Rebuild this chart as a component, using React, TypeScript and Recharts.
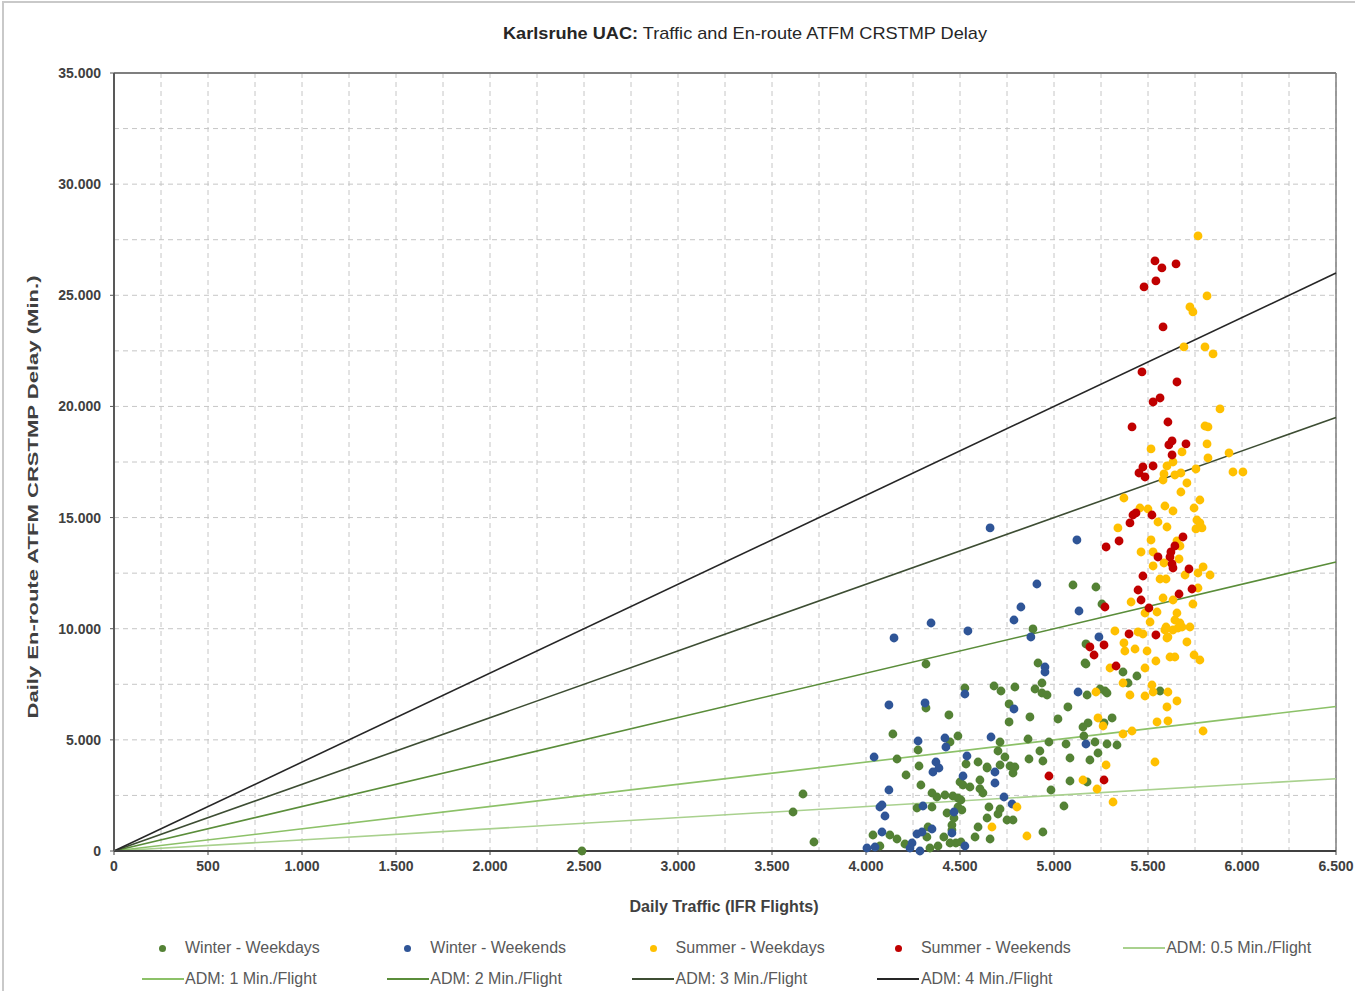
import {
  CartesianGrid,
  ReferenceLine,
  Scatter,
  ScatterChart,
  XAxis,
  YAxis,
} from "recharts";

// [daily traffic, daily delay minutes]
const winterWeekdays: [number, number][] = [
  [4319, 6434], [4441, 6119], [4143, 5264], [4489, 5174], [4447, 4904], [4277, 4544],
  [4165, 4139], [4282, 3824], [4532, 3914], [4596, 4004], [4644, 3734], [4213, 3419],
  [4500, 3104], [4516, 2969], [4606, 3194], [4292, 2969], [4553, 2879], [4606, 2800],
  [4622, 2609], [4351, 2609], [4377, 2429], [4420, 2519], [4462, 2474], [4489, 2384],
  [4505, 2294], [4489, 1980], [4510, 1845], [4271, 1935], [4351, 1980], [4431, 1710],
  [4468, 1485], [4457, 1170], [4596, 1080], [4330, 1080], [4457, 945], [4037, 720],
  [4127, 720], [4165, 540], [4207, 315], [4324, 630], [4414, 630], [4478, 360],
  [4505, 405], [4580, 630], [4074, 225], [4340, 135], [4383, 225], [4447, 360],
  [4644, 1485], [4681, 7423], [4718, 7198], [4792, 7378], [4899, 7288], [4936, 7558],
  [4936, 7108], [4963, 7018], [5176, 7018], [4761, 6614], [5074, 6479], [4872, 6029],
  [5021, 5939], [4761, 5804], [5266, 5759], [4713, 4904], [4862, 5039], [4973, 4904],
  [5064, 4814], [5159, 5174], [4702, 4499], [4925, 4499], [4739, 4229], [4867, 4139],
  [4941, 4049], [5085, 4184], [5191, 4094], [4644, 3779], [4713, 3869], [4766, 3824],
  [4792, 3779], [4782, 3509], [5085, 3149], [4984, 2744], [5053, 2024], [4654, 1980],
  [4713, 1890], [4702, 1665], [4750, 1395], [4782, 1395], [4660, 540], [4941, 855],
  [5170, 9313], [5165, 8458], [5367, 8053], [5441, 7873], [5394, 7558], [5245, 7288],
  [5271, 7198], [5282, 7108], [5564, 7198], [5309, 5984], [5181, 5759], [5154, 5579],
  [5218, 4904], [5282, 4814], [5335, 4769], [5234, 4409], [5176, 3104], [5101, 11967],
  [5223, 11877], [5255, 11112], [4888, 9988], [4319, 8413], [4915, 8458], [5170, 8413],
  [4526, 7333], [3665, 2564], [3612, 1755], [3723, 405], [2489, 0],
];

const winterWeekends: [number, number][] = [
  [4660, 14532], [5122, 13992], [4909, 12012], [4824, 10977], [4346, 10257], [4149, 9583],
  [4542, 9898], [4787, 10392], [4877, 9628], [5133, 10797], [5239, 9628], [4952, 8278],
  [4952, 8053], [5128, 7153], [4526, 7063], [4122, 6569], [4314, 6659], [4787, 6389],
  [4277, 4949], [4420, 5084], [4425, 4679], [4043, 4229], [4372, 4004], [4388, 3734],
  [4356, 3554], [4516, 3374], [4537, 4274], [4122, 2744], [4074, 1980], [4085, 2069],
  [4303, 2024], [4101, 1575], [4468, 1755], [4085, 855], [4351, 990], [4271, 765],
  [4298, 855], [4457, 810], [4245, 360], [4234, 135], [4287, 0], [4005, 135],
  [4048, 180], [4526, 225], [4665, 5129], [5170, 4814], [4686, 3554], [4686, 3059],
  [4734, 2429], [4777, 2114],
];

const summerWeekdays: [number, number][] = [
  [5766, 27669], [5814, 24970], [5723, 24475], [5739, 24250], [5691, 22675], [5803, 22675],
  [5846, 22360], [5883, 19886], [5803, 19120], [5819, 19076], [5516, 18086], [5814, 18311],
  [5681, 17951], [5819, 17681], [5931, 17906], [5952, 17051], [6005, 17051], [5601, 17321],
  [5755, 17186], [5633, 17501], [5585, 16961], [5580, 16691], [5643, 16916], [5675, 17006],
  [5707, 16556], [5675, 16151], [5372, 15881], [5776, 15791], [5457, 15431], [5500, 15386],
  [5590, 15521], [5633, 15296], [5745, 15431], [5553, 14801], [5601, 14576], [5760, 14891],
  [5776, 14757], [5755, 14487], [5787, 14532], [5340, 14532], [5516, 13992], [5463, 13452],
  [5527, 13452], [5654, 13947], [5670, 13722], [5527, 12822], [5585, 12957], [5665, 13137],
  [5793, 12777], [5830, 12417], [5766, 12507], [5697, 12417], [5564, 12237], [5596, 12237],
  [5766, 11832], [5410, 11202], [5580, 11382], [5633, 11292], [5739, 11112], [5484, 10707],
  [5548, 10752], [5654, 10707], [5511, 10302], [5643, 10392], [5670, 10257], [5596, 10077],
  [5324, 9898], [5447, 9853], [5473, 9763], [5590, 9943], [5606, 9628], [5601, 9583],
  [5633, 9943], [5660, 10033], [5681, 10077], [5723, 10077], [5707, 9403], [5372, 9358],
  [5377, 8998], [5431, 9088], [5495, 8998], [5542, 8548], [5617, 8728], [5643, 8728],
  [5745, 8818], [5776, 8593], [5298, 8233], [5484, 8233], [5367, 7558], [5223, 7153],
  [5404, 7018], [5484, 6973], [5521, 7468], [5527, 7153], [5606, 7153], [5654, 6749],
  [5601, 6479], [5234, 5984], [5261, 5624], [5548, 5804], [5606, 5849], [5415, 5399],
  [5367, 5264], [5793, 5399], [5277, 3869], [5537, 4004], [5154, 3194], [5229, 2789],
  [5314, 2204], [4803, 1980], [4670, 1080], [4856, 675],
];

const summerWeekends: [number, number][] = [
  [5537, 26544], [5574, 26229], [5649, 26409], [5542, 25644], [5479, 25374], [5580, 23575],
  [5468, 21550], [5654, 21100], [5564, 20380], [5527, 20200], [5606, 19300], [5415, 19076],
  [5611, 18266], [5628, 18446], [5702, 18311], [5628, 17816], [5473, 17276], [5527, 17321],
  [5452, 17006], [5484, 16826], [5436, 15207], [5420, 15116], [5521, 15116], [5404, 14757],
  [5346, 13947], [5277, 13677], [5686, 14127], [5643, 13722], [5622, 13452], [5553, 13227],
  [5617, 13227], [5628, 12912], [5633, 12732], [5718, 12687], [5473, 12372], [5665, 11562],
  [5734, 11787], [5447, 11742], [5463, 11292], [5505, 10932], [5271, 10977], [5399, 9763],
  [5542, 9718], [5191, 9178], [5266, 9268], [5213, 8818], [5330, 8323], [5266, 3194],
  [4973, 3374],
];

// ADM reference lines: delay at the right edge of the chart (6.500 flights)
const admLabels = ["ADM: 0.5 Min./Flight", "ADM: 1 Min./Flight", "ADM: 2 Min./Flight", "ADM: 3 Min./Flight", "ADM: 4 Min./Flight"];
const admEndX = 6500;
const admEndY = [3250, 6500, 13000, 19500, 26000];
const admColors = ["#a9d18e", "#8cc168", "#5a8d3a", "#3d4d33", "#262626"];

const xTicks = [0, 500, 1000, 1500, 2000, 2500, 3000, 3500, 4000, 4500, 5000, 5500, 6000, 6500];
const yTicks = [0, 5000, 10000, 15000, 20000, 25000, 30000, 35000];
const xGrid = [
  0, 250, 500, 750, 1000, 1250, 1500, 1750, 2000, 2250, 2500, 2750, 3000, 3250,
  3500, 3750, 4000, 4250, 4500, 4750, 5000, 5250, 5500, 5750, 6000, 6250, 6500,
];
const yGrid = [
  0, 2500, 5000, 7500, 10000, 12500, 15000, 17500, 20000, 22500, 25000, 27500,
  30000, 32500, 35000,
];

const seriesDefs = [
  { name: "Winter - Weekdays", color: "#548235", data: winterWeekdays },
  { name: "Winter - Weekends", color: "#2f5597", data: winterWeekends },
  { name: "Summer - Weekdays", color: "#ffc000", data: summerWeekdays },
  { name: "Summer - Weekends", color: "#c00000", data: summerWeekends },
];

const FONT = '"Liberation Sans", Arial, sans-serif';
const fmt = (v: number) => v.toLocaleString("de-DE");

const toPoints = (rows: [number, number][]) => rows.map(([x, y]) => ({ x, y }));

function Dot(props: any) {
  const { cx, cy, fill } = props;
  if (cx == null || cy == null) return <g />;
  return <circle cx={cx} cy={cy} r={4.4} fill={fill} />;
}

function LegendBlock() {
  const items = [
    ...seriesDefs.map((s) => ({ label: s.name, color: s.color, dot: true })),
    ...admLabels.map((label, i) => ({ label, color: admColors[i], dot: false })),
  ];
  return (
    <>
      {items.map((item, i) => {
        const row = i < 5 ? 0 : 1;
        const col = i < 5 ? i : i - 5;
        const textX = 185 + col * 245.3;
        const y = row === 0 ? 948 : 979;
        return (
          <div
            key={item.label}
            style={{
              position: "absolute",
              left: textX - 44,
              top: y - 10,
              height: 20,
              display: "flex",
              alignItems: "center",
              fontFamily: FONT,
              fontSize: 16,
              color: "#595959",
              whiteSpace: "nowrap",
            }}
          >
            <span style={{ width: 43, display: "inline-flex", justifyContent: "center", marginRight: 1 }}>
              {item.dot ? (
                <span style={{ width: 7, height: 7, borderRadius: "50%", background: item.color }} />
              ) : (
                <span style={{ width: 42, height: 2, background: item.color }} />
              )}
            </span>
            {item.label}
          </div>
        );
      })}
    </>
  );
}

function Titles() {
  return (
    <svg
      width={1355}
      height={991}
      style={{ position: "absolute", left: 0, top: 0, pointerEvents: "none" }}
    >
      <text
        x={745}
        y={39}
        textAnchor="middle"
        fontFamily={FONT}
        fontSize={17}
        fill="#262626"
        textLength={484}
        lengthAdjust="spacingAndGlyphs"
      >
        <tspan fontWeight={700}>Karlsruhe UAC:</tspan> Traffic and En-route ATFM CRSTMP Delay
      </text>
      <text
        x={724}
        y={912}
        textAnchor="middle"
        fontFamily={FONT}
        fontSize={16}
        fontWeight={700}
        fill="#404040"
        textLength={189}
        lengthAdjust="spacingAndGlyphs"
      >
        Daily Traffic (IFR Flights)
      </text>
      <text
        x={0}
        y={0}
        transform="translate(38 497) rotate(-90)"
        textAnchor="middle"
        fontFamily={FONT}
        fontSize={15}
        fontWeight={700}
        fill="#404040"
        textLength={443}
        lengthAdjust="spacingAndGlyphs"
      >
        Daily En-route ATFM CRSTMP Delay (Min.)
      </text>
    </svg>
  );
}

export default function App() {
  return (
    <div
      style={{
        position: "absolute",
        left: 0,
        top: 0,
        width: 1355,
        height: 991,
        background: "#fff",
        overflow: "hidden",
      }}
    >
      <div
        style={{
          position: "absolute",
          left: 2,
          top: 1,
          width: 1360,
          height: 1000,
          borderLeft: "2px solid #c9c9c9",
          borderTop: "2px solid #c9c9c9",
        }}
      />
      <ScatterChart
        width={1355}
        height={991}
        margin={{ top: 73, right: 19, bottom: 110, left: 54 }}
        style={{ position: "absolute", left: 0, top: 0 }}
      >
        <CartesianGrid
          stroke="#c6c6c6"
          strokeDasharray="5 4"
          verticalValues={xGrid}
          horizontalValues={yGrid}
        />
        <XAxis
          type="number"
          dataKey="x"
          domain={[0, 6500]}
          ticks={xTicks}
          interval={0}
          tickFormatter={fmt}
          height={30}
          axisLine={{ stroke: "#404040", strokeWidth: 2 }}
          tickLine={{ stroke: "#404040" }}
          tickSize={4}
          tickMargin={6}
          tick={{ fontSize: 14, fontWeight: 700, fill: "#404040", fontFamily: FONT }}
        />
        <YAxis
          type="number"
          dataKey="y"
          domain={[0, 35000]}
          ticks={yTicks}
          interval={0}
          tickFormatter={fmt}
          width={60}
          axisLine={{ stroke: "#595959", strokeWidth: 2 }}
          tickLine={{ stroke: "#595959" }}
          tickSize={4}
          tickMargin={9}
          tick={{ fontSize: 14, fontWeight: 700, fill: "#404040", fontFamily: FONT }}
        />
        <ReferenceLine y={35000} stroke="#7f7f7f" strokeWidth={2} />
        <ReferenceLine x={6500} stroke="#7f7f7f" strokeWidth={1.5} />
        {seriesDefs.map((s) => (
          <Scatter
            key={s.name}
            name={s.name}
            data={toPoints(s.data)}
            fill={s.color}
            shape={<Dot />}
            isAnimationActive={false}
          />
        ))}
        {admEndY.map((endY, i) => (
          <ReferenceLine
            key={admLabels[i]}
            segment={[
              { x: 0, y: 0 },
              { x: admEndX, y: endY },
            ]}
            stroke={admColors[i]}
            strokeWidth={1.6}
          />
        ))}
      </ScatterChart>
      <Titles />
      <LegendBlock />
    </div>
  );
}
